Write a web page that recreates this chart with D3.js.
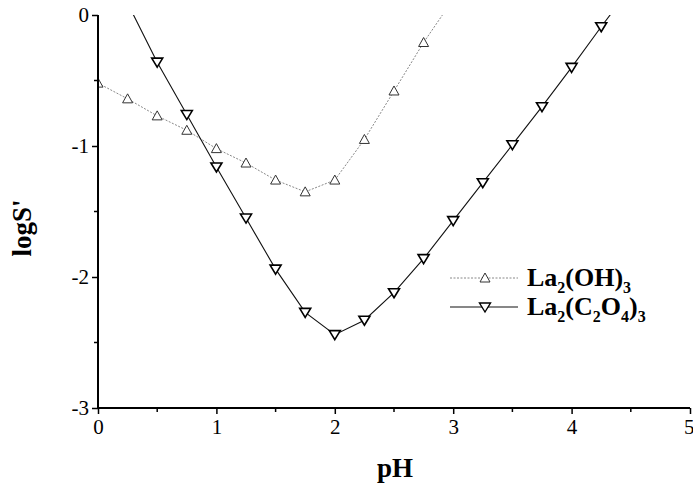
<!DOCTYPE html>
<html><head><meta charset="utf-8">
<script src="https://cdn.jsdelivr.net/npm/d3@7"></script>
<style>body{margin:0;background:#fff}svg{display:block}</style>
</head><body>
<script>
// Data
const pH_OH = [0,0.25,0.5,0.75,1.0,1.25,1.5,1.75,2.0,2.25,2.5,2.75,3.0];
const logS_OH = [-0.52,-0.64,-0.77,-0.88,-1.02,-1.13,-1.26,-1.35,-1.26,-0.95,-0.58,-0.21,0.12];
const pH_Ox = [0.25,0.5,0.75,1.0,1.25,1.5,1.75,2.0,2.25,2.5,2.75,3.0,3.25,3.5,3.75,4.0,4.25,4.5];
const logS_Ox = [0.09,-0.36,-0.76,-1.16,-1.55,-1.94,-2.27,-2.44,-2.33,-2.12,-1.86,-1.57,-1.28,-0.99,-0.70,-0.40,-0.09,0.21];
const xTicks = [0,1,2,3,4,5];
const yTicks = [0,-1,-2,-3];
const xMinor = [0.5,1.5,2.5,3.5,4.5];
const yMinor = [-0.5,-1.5,-2.5];
const seriesNames = ["La2(OH)3","La2(C2O4)3"];

const W=693,H=487;
const svg=d3.select("body").append("svg").attr("width",W).attr("height",H);
const x=d3.scaleLinear().domain([0,5]).range([98,690]);
const y=d3.scaleLinear().domain([-3,0]).range([408,15]);
const serif="'Liberation Serif','Times New Roman',serif";

svg.append("clipPath").attr("id","clip").append("rect")
  .attr("x",98).attr("y",15).attr("width",592).attr("height",393);

const plot=svg.append("g").attr("clip-path","url(#clip)");
const line=d3.line().x(d=>x(d[0])).y(d=>y(d[1]));
const dOH=pH_OH.map((p,i)=>[p,logS_OH[i]]);
const dOx=pH_Ox.map((p,i)=>[p,logS_Ox[i]]);

plot.append("path").datum(dOH).attr("d",line).attr("fill","none")
  .attr("stroke","#888").attr("stroke-width",1).attr("stroke-dasharray","2,1.5");
plot.append("path").datum(dOx).attr("d",line).attr("fill","none")
  .attr("stroke","#111").attr("stroke-width",1.1);

const up=(cx,cy)=>`M${cx},${cy-5}L${cx+5},${cy+4}L${cx-5},${cy+4}Z`;
const down=(cx,cy)=>`M${cx},${cy+5}L${cx+5.5},${cy-4}L${cx-5.5},${cy-4}Z`;

plot.selectAll(".mu").data(dOH).enter().append("path")
  .attr("d",d=>up(x(d[0]),y(d[1]))).attr("fill","#fff").attr("stroke","#333").attr("stroke-width",1);
plot.selectAll(".md").data(dOx).enter().append("path")
  .attr("d",d=>down(x(d[0]),y(d[1]))).attr("fill","#fff").attr("stroke","#000").attr("stroke-width",1.6);

// Axes
const xAxis=d3.axisBottom(x).tickValues(xTicks).tickFormat(d3.format("d")).tickSize(6).tickPadding(5);
const gx=svg.append("g").attr("transform","translate(0,408)").call(xAxis);
const yAxis=d3.axisLeft(y).tickValues(yTicks).tickFormat(d=>d===0?"0":"-"+Math.abs(d)).tickSize(6).tickPadding(3);
const gy=svg.append("g").attr("transform","translate(98,0)").call(yAxis);
[gx,gy].forEach(g=>{
  g.attr("font-size",null).attr("font-family",null);
  g.select(".domain").attr("stroke","#000").attr("stroke-width",2);
  g.selectAll(".tick line").attr("stroke","#000").attr("stroke-width",1.5);
  g.selectAll("text").style("font-family",serif).style("font-size","21px").attr("fill","#000");
});
gx.selectAll(".tick text").filter(d=>d===5).attr("text-anchor","end").attr("dx",4);
gx.select(".domain").attr("d","M97,0H690");
gy.select(".domain").attr("d","M0,15V409");
svg.append("g").selectAll("line").data(xMinor).enter().append("line")
  .attr("x1",d=>x(d)).attr("x2",d=>x(d)).attr("y1",408).attr("y2",412).attr("stroke","#000").attr("stroke-width",1.5);
svg.append("g").selectAll("line").data(yMinor).enter().append("line")
  .attr("y1",d=>y(d)).attr("y2",d=>y(d)).attr("x1",98).attr("x2",94).attr("stroke","#000").attr("stroke-width",1.5);

// Axis titles
svg.append("text").attr("x",395).attr("y",477).attr("text-anchor","middle")
  .attr("font-family",serif).attr("font-weight","bold").attr("font-size",27).text("pH");
svg.append("text").attr("transform","translate(31,228) rotate(-90)").attr("text-anchor","middle")
  .attr("font-family",serif).attr("font-weight","bold").attr("font-size",27).text("logS'");

// Legend
const leg=svg.append("g");
const rows=[{y:278,name:seriesNames[0]},{y:307,name:seriesNames[1]}];
leg.append("line").attr("x1",450).attr("x2",518).attr("y1",rows[0].y).attr("y2",rows[0].y)
  .attr("stroke","#888").attr("stroke-width",1).attr("stroke-dasharray","2,1.5");
leg.append("path").attr("d",up(485,rows[0].y)).attr("fill","#fff").attr("stroke","#333");
leg.append("line").attr("x1",450).attr("x2",518).attr("y1",rows[1].y).attr("y2",rows[1].y)
  .attr("stroke","#111").attr("stroke-width",1.1);
leg.append("path").attr("d",down(485,rows[1].y)).attr("fill","#fff").attr("stroke","#000").attr("stroke-width",1.4);

function chem(name,ybase){
  const txt=leg.append("text").attr("x",527).attr("y",ybase).attr("font-family",serif)
    .attr("font-weight","bold").attr("font-size",26).attr("fill","#000");
  const parts=name.match(/[A-Za-z()]+|\d+/g);
  let prevSub=false;
  parts.forEach(p=>{
    const isSub=/^\d+$/.test(p);
    const t=txt.append("tspan").text(p)
      .attr("dy", isSub&&!prevSub?7:(!isSub&&prevSub?-7:0));
    if(isSub) t.attr("font-size",16);
    prevSub=isSub;
  });
}
chem(rows[0].name,rows[0].y+8);
chem(rows[1].name,rows[1].y+8);
</script>
</body></html>
